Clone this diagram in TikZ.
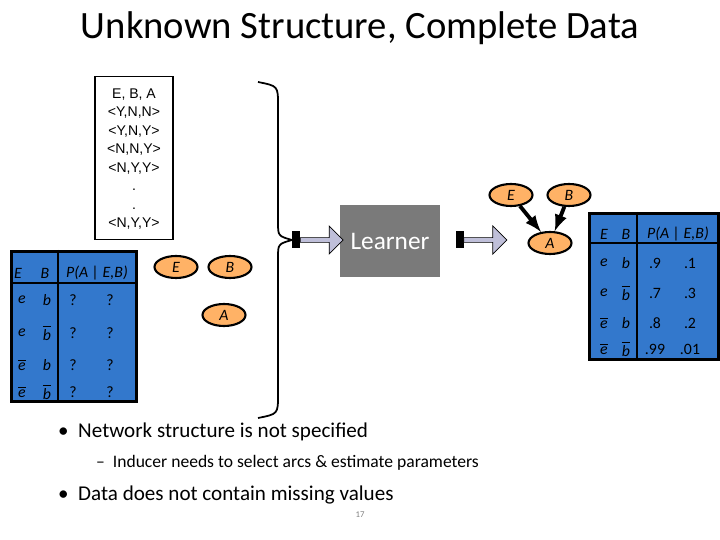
\documentclass[tikz,border=0pt]{standalone}
\usepackage{fontspec}
\setmainfont{Carlito}
\newfontfamily\arialf{Liberation Sans}
\usetikzlibrary{shapes.geometric, shapes.arrows, positioning}

\tikzset{
  var/.style={ellipse, draw=black, line width=1.2pt, fill=orange!60!white, minimum width=8.6mm, minimum height=4.4mm, inner sep=0pt, font=\itshape\small},
  cpt/.style={draw=black, line width=1.5pt, fill=blue!55!cyan!60!gray},
  cell/.style={font=\itshape\small, inner sep=0pt},
  val/.style={font=\small, inner sep=0pt},
  blk/.style={single arrow, draw=black, fill=blue!25!gray!40, minimum height=8.6mm, minimum width=5.6mm, single arrow head extend=1.2mm, inner sep=0.5pt},
  stub/.style={fill=black, minimum width=1.6mm, minimum height=3.4mm, inner sep=0pt}
}
\newcommand{\ob}[1]{$\overline{\mbox{#1}}$}

\begin{document}
\begin{tikzpicture}[x=0.02cm, y=-0.02cm]
  \useasboundingbox (0,0) rectangle (720,540);

  \node (title) at (360,28) {\fontsize{22}{26}\selectfont Unknown Structure, Complete Data};

  % data
  \node[draw, line width=1pt, minimum width=1.56cm, minimum height=3.26cm] (data) at (134,158) {};
  \node[font=\arialf\footnotesize, align=center, inner sep=0pt] at (134,159)
    {E, B, A\\[1pt] <Y,N,N>\\[1pt] <Y,N,Y>\\[1pt] <N,N,Y>\\[1pt] <N,Y,Y>\\[1pt] .\\[1pt] .\\[1pt] <N,Y,Y>};

  \coordinate (tip) at (292,240);
  \draw[line width=1pt] (258,82) .. controls (278,86) .. (278,105) -- (278,222)
    .. controls (278,236) .. (tip) .. controls (278,244) .. (278,258) -- (278,395)
    .. controls (278,414) .. (258,418);

  % learner
  \node[fill=black!52, minimum width=2cm, minimum height=1.44cm, text=white, font=\Large] (learner) at (390,241) {Learner};
  \node[stub, right=0pt of tip] (s1) {};
  \node[blk, right=-0.5pt of s1] (a1) {};
  \node[stub] (s2) at (460,240) {};
  \node[blk, right=-0.5pt of s2] (a2) {};

  % left network
  \node[var] (E1) at (176,267) {E};
  \node[var] (B1) at (230,267) {B};
  \node[var] (A1) at (224,315) {A};

  % right network
  \node[var] (E2) at (511,195) {E};
  \node[var] (B2) at (569,195) {B};
  \node[var] (A2) at (550,243) {A};
  \draw[-latex, line width=2.2pt] (E2) -- (A2);
  \draw[-latex, line width=2.2pt] (B2) -- (A2);

  % left table
  \node[cpt, minimum width=2.5cm, minimum height=3cm, anchor=north west] (tab1) at (10,250) {};
  \draw[line width=1.5pt] (58,250) -- (58,400) (10,283) -- (135,283);
  \node[cell] at (18,273) {E};
  \node[cell] at (45,273) {B};
  \node[cell] at (97,273) {P(A | E,B)};
  \foreach \y/\e/\b/\p/\q in {300/e/b/?/?, 333/e/\ob{b}/?/?, 365/\ob{e}/b/?/?, 392/\ob{e}/\ob{b}/?/?}{
    \node[cell] at (22,\y) {\e};
    \node[cell] at (47,\y) {\b};
    \node[val] at (73,\y) {\p};
    \node[val] at (110,\y) {\q};
  }

  % right table
  \node[cpt, minimum width=2.58cm, minimum height=2.92cm, anchor=north west] (tab2) at (588,212) {};
  \draw[line width=1.5pt] (637,212) -- (637,358) (588,243) -- (717,243);
  \node[cell] at (604,234) {E};
  \node[cell] at (626,234) {B};
  \node[cell] at (678,234) {P(A | E,B)};
  \foreach \y/\e/\b/\p/\q in {263/e/b/.9/.1, 293/e/\ob{b}/.7/.3, 323/\ob{e}/b/.8/.2, 349/\ob{e}/\ob{b}/.99/.01}{
    \node[cell] at (604,\y) {\e};
    \node[cell] at (626,\y) {\b};
    \node[val] at (655,\y) {\p};
    \node[val] at (690,\y) {\q};
  }

  % bullets
  \node[anchor=west, font=\large] (b1) at (52,432) {\textbullet\ \ Network structure is not specified};
  \node[anchor=west] (b2) at (90,463) {--\ \ Inducer needs to select arcs \& estimate parameters};
  \node[anchor=west, font=\large] (b3) at (52,495) {\textbullet\ \ Data does not contain missing values};
  \node[font=\tiny, text=gray] (pg) at (360,515) {17};
\end{tikzpicture}
\end{document}
